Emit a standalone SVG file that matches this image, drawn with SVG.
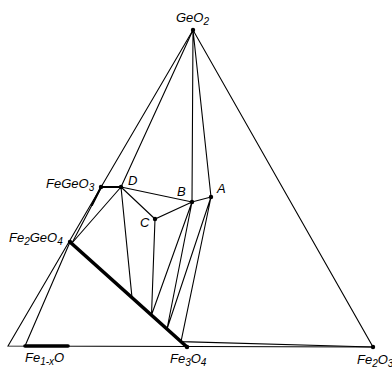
<svg xmlns="http://www.w3.org/2000/svg" width="392" height="368" viewBox="0 0 392 368">
<style>
.ln{stroke:#000;stroke-width:1.1;fill:none;stroke-linecap:round}
.thk{stroke:#000;stroke-width:3.6;fill:none;stroke-linecap:round}
.mid{stroke:#000;stroke-width:2;fill:none;stroke-linecap:round}
.dot{fill:#000}
.t{font-family:"Liberation Sans",Arial,sans-serif;font-style:italic;font-size:13px;fill:#000}
.s{font-size:10px}
</style>
<rect width="392" height="368" fill="#fff"/>
<g id="connectors">
<path class="ln" d="M8,346 L193,30 L373,347 Z"/>
<path class="ln" d="M193,30 L121,187 M193,30 L192,202 M193,30 L211,197"/>
<path class="mid" d="M102,187 L121,187"/>
<path class="ln" d="M121,187 L192,202 L211,197 M121,187 L155,219 L192,202 M121,187 L72,243 M121,187 L132,297.6"/>
<path class="ln" d="M155,219 L151.5,315 M192,202 L151.5,315 M192,202 L167,329 M211,197 L167,329 M211,197 L181,341.6 M181,341.6 L373,347"/>
<path class="ln" d="M25,346 L70,242"/>
<path class="ln" d="M101,188 L72,243"/>
<path class="mid" d="M101,187 L92,205"/>
<path class="thk" d="M70,242 L187,347"/>
<path class="thk" d="M25,346 L68,346"/>
</g>
<g id="GeO2"><circle class="dot" cx="193" cy="30" r="2.2"/><text class="t" x="176" y="22">GeO<tspan class="s" dy="3">2</tspan></text></g>
<g id="FeGeO3"><circle class="dot" cx="101" cy="187" r="2.2"/><text class="t" x="46" y="188">FeGeO<tspan class="s" dy="3">3</tspan></text></g>
<g id="D"><circle class="dot" cx="121" cy="187" r="2.2"/><text class="t" x="128" y="185">D</text></g>
<g id="B"><circle class="dot" cx="192" cy="202" r="2.2"/><text class="t" x="177" y="196">B</text></g>
<g id="A"><circle class="dot" cx="211" cy="197" r="2.2"/><text class="t" x="217" y="193">A</text></g>
<g id="C"><circle class="dot" cx="155" cy="219" r="2.2"/><text class="t" x="140" y="227">C</text></g>
<g id="Fe2GeO4"><circle class="dot" cx="70" cy="242" r="2.2"/><text class="t" x="9" y="242">Fe<tspan class="s" dy="3">2</tspan><tspan dy="-3">GeO</tspan><tspan class="s" dy="3">4</tspan></text></g>
<g id="Fe3O4"><circle class="dot" cx="187" cy="347" r="2.2"/><text class="t" x="170" y="363">Fe<tspan class="s" dy="3">3</tspan><tspan dy="-3">O</tspan><tspan class="s" dy="3">4</tspan></text></g>
<g id="Fe1-xO"><text class="t" x="25" y="362">Fe<tspan class="s" dy="3">1-x</tspan><tspan dy="-3">O</tspan></text></g>
<g id="Fe2O3"><circle class="dot" cx="373" cy="347" r="2.2"/><text class="t" x="357" y="364">Fe<tspan class="s" dy="3">2</tspan><tspan dy="-3">O</tspan><tspan class="s" dy="3">3</tspan></text></g>
</svg>
